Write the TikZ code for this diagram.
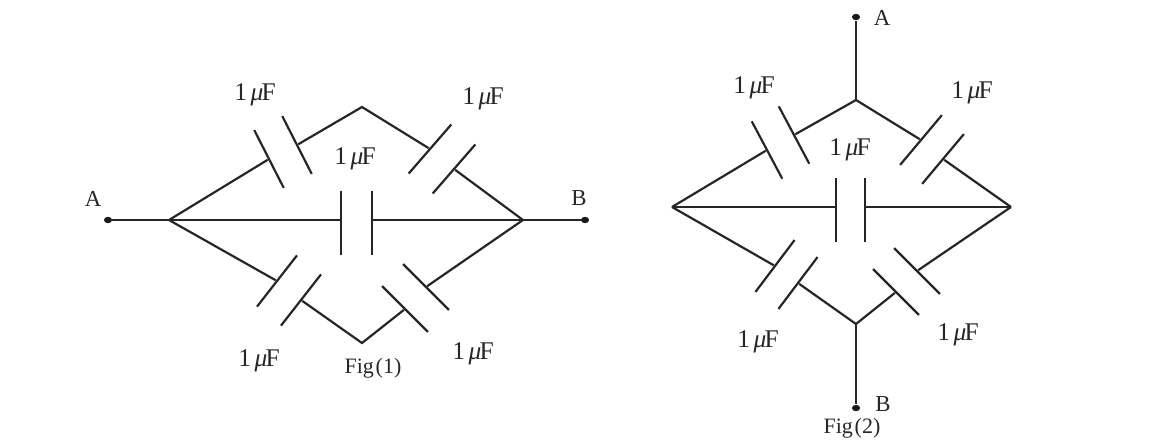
\documentclass[tikz,border=0pt]{standalone}
\usepackage{fontspec}
\setmainfont{Liberation Serif}
\usepackage{tikz}
\usetikzlibrary{shapes.geometric}
\newcommand{\capval}{1\kern2pt\textit{μ}\kern-1pt F}
\begin{document}
\begin{tikzpicture}[x=0.02cm, y=-0.02cm, wire/.style={draw=black!85, line width=1.25pt},
    plate/.style={fill=black!85, inner sep=0pt, minimum width=1.25pt, minimum height=1.3cm},
    terminal/.style={ellipse, fill=black!90, inner sep=0pt, minimum width=4.6pt, minimum height=3.6pt},
    val/.style={font=\fontsize{14.5}{16}\selectfont, text=black!85, inner sep=0pt},
    lett/.style={font=\fontsize{13}{15}\selectfont, text=black!85, inner sep=0pt},
    caption/.style={font=\fontsize{12.5}{14}\selectfont, text=black!85, inner sep=0pt}]
    \useasboundingbox (0,0) rectangle (1170,440);
    % Fig (1)
    \node[terminal] (aone) at (108,220) {};
    \node[terminal] (bone) at (585,220) {};
    \coordinate (leftone) at (169,220);
    \coordinate (rightone) at (523,220);
    \coordinate (topone) at (362,107);
    \coordinate (botone) at (362,343);
    \node[plate, rotate=27] (tlaone) at (269,159) {};
    \node[plate, rotate=27] (tlbone) at (297,145) {};
    \node[plate, rotate=-41] (traone) at (430,149) {};
    \node[plate, rotate=-41] (trbone) at (454,169) {};
    \node[plate] (caone) at (341,223) {};
    \node[plate] (cbone) at (372,223) {};
    \node[plate, rotate=-38] (blaone) at (277,281) {};
    \node[plate, rotate=-38] (blbone) at (301,300) {};
    \node[plate, rotate=45] (braone) at (405,309) {};
    \node[plate, rotate=45] (brbone) at (426,287) {};
    \draw[wire] (aone) -- (leftone);
    \draw[wire] (leftone) -- (tlaone);
    \draw[wire] (tlbone) -- (topone) -- (traone);
    \draw[wire] (trbone) -- (rightone);
    \draw[wire] (leftone) -- (caone.center |- leftone);
    \draw[wire] (cbone.center |- rightone) -- (rightone);
    \draw[wire] (leftone) -- (blaone);
    \draw[wire] (blbone) -- (botone) -- (braone);
    \draw[wire] (brbone) -- (rightone);
    \draw[wire] (rightone) -- (bone);
    \node[lett] (lblaone) at (93,199) {A};
    \node[lett] (lblbone) at (579,198) {B};
    \node[val] (vtlone) at (255,95) {\capval};
    \node[val] (vtrone) at (483,99) {\capval};
    \node[val] (vcone) at (355,159) {\capval};
    \node[val] (vblone) at (259,361) {\capval};
    \node[val] (vbrone) at (473,354) {\capval};
    \node[caption] (figone) at (373,368) {Fig\kern1pt(1)};
    % Fig (2)
    \node[terminal] (atwo) at (856,17) {};
    \node[terminal] (btwo) at (856,408) {};
    \coordinate (toptwo) at (856,100);
    \coordinate (bottwo) at (856,324);
    \coordinate (lefttwo) at (672,207);
    \coordinate (righttwo) at (1011,207);
    \node[plate, rotate=28] (tlatwo) at (767,150) {};
    \node[plate, rotate=28] (tlbtwo) at (794,135) {};
    \node[plate, rotate=-40] (tratwo) at (921,140) {};
    \node[plate, rotate=-40] (trbtwo) at (943,159) {};
    \node[plate] (catwo) at (836,210) {};
    \node[plate] (cbtwo) at (865,210) {};
    \node[plate, rotate=-37] (blatwo) at (775,266) {};
    \node[plate, rotate=-37] (blbtwo) at (798,283) {};
    \node[plate, rotate=45] (bratwo) at (896,292) {};
    \node[plate, rotate=45] (brbtwo) at (917,271) {};
    \draw[wire] (atwo) -- (toptwo);
    \draw[wire] (lefttwo) -- (tlatwo);
    \draw[wire] (tlbtwo) -- (toptwo) -- (tratwo);
    \draw[wire] (trbtwo) -- (righttwo);
    \draw[wire] (lefttwo) -- (catwo.center |- lefttwo);
    \draw[wire] (cbtwo.center |- righttwo) -- (righttwo);
    \draw[wire] (lefttwo) -- (blatwo);
    \draw[wire] (blbtwo) -- (bottwo) -- (bratwo);
    \draw[wire] (brbtwo) -- (righttwo);
    \draw[wire] (bottwo) -- (btwo);
    \node[lett] (lblatwo) at (882,18) {A};
    \node[lett] (lblbtwo) at (883,404) {B};
    \node[val] (vtltwo) at (754,88) {\capval};
    \node[val] (vtrtwo) at (972,93) {\capval};
    \node[val] (vctwo) at (850,150) {\capval};
    \node[val] (vbltwo) at (758,342) {\capval};
    \node[val] (vbrtwo) at (958,335) {\capval};
    \node[caption] (figtwo) at (852,428) {Fig\kern1pt(2)};
\end{tikzpicture}
\end{document}
